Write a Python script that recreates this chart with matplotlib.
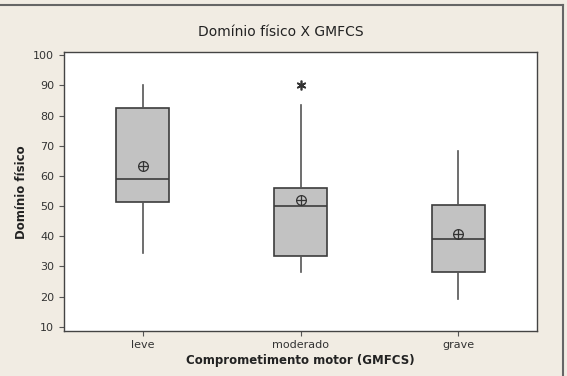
import matplotlib.pyplot as plt
from matplotlib.lines import Line2D

# values
groups = ['leve', 'moderado', 'grave']
whislo = [34.6, 28.2, 19.2]
q1 = [51.5, 33.5, 28.1]
med = [59.1, 49.9, 39.0]
q3 = [82.4, 56.1, 50.5]
whishi = [90.0, 83.6, 68.3]
means = [63.3, 51.9, 40.8]
fliers = [[], [90.0], []]

stats = []
for i in range(len(groups)):
    stats.append(dict(label=groups[i], whislo=whislo[i], q1=q1[i], med=med[i],
                      q3=q3[i], whishi=whishi[i], mean=means[i], fliers=fliers[i]))

bg = '#f1ece3'
fig = plt.figure(figsize=(5.67, 3.76), dpi=100, facecolor=bg)
ax = fig.add_axes([0.1129, 0.1197, 0.8342, 0.7407])
ax.set_facecolor('white')

pos = [1, 2, 3]
ax.bxp(stats, positions=pos, widths=0.337, patch_artist=True, showmeans=False,
       showcaps=False,
       boxprops=dict(facecolor='#c2c2c2', edgecolor='#3c3c3c', linewidth=1.2),
       medianprops=dict(color='#3c3c3c', linewidth=1.2),
       whiskerprops=dict(color='#555555', linewidth=1.2),
       flierprops=dict(marker=(6, 2, 0), markersize=7, markerfacecolor='#333333',
                       markeredgecolor='#333333', markeredgewidth=1.2))

# mean symbol: circle with cross
ax.plot(pos, means, 'o', markersize=7, markerfacecolor='none',
        markeredgecolor='#333333', markeredgewidth=0.9, zorder=5)
ax.plot(pos, means, '+', markersize=7, color='#333333',
        markeredgewidth=0.9, zorder=5)

ax.set_xlim(0.5, 3.5)
ax.set_ylim(8.6, 100.9)
ax.set_yticks(range(10, 101, 10))
ax.set_xticks(pos)
ax.set_xticklabels(groups)
ax.tick_params(axis='both', direction='out', length=3.5, width=0.8,
               colors='#555555', labelcolor='#333333', labelsize=8)
ax.tick_params(axis='x', pad=3)
for s in ax.spines.values():
    s.set_color('#444444')
    s.set_linewidth(1.0)

ax.set_xlabel('Comprometimento motor (GMFCS)', fontsize=8.5, fontweight='bold',
              color='#222222', labelpad=3)
ax.set_ylabel('Domínio físico', fontsize=8.5, fontweight='bold',
              color='#222222', labelpad=4)
fig.text(0.495, 0.915, 'Domínio físico X GMFCS', ha='center', va='center',
         fontsize=10, color='#222222')

# outer frame lines on top and right
fig.add_artist(Line2D([0, 0.993], [0.988, 0.988], transform=fig.transFigure,
                      color='#666666', linewidth=1.5))
fig.add_artist(Line2D([0.993, 0.993], [0, 0.988], transform=fig.transFigure,
                      color='#666666', linewidth=1.5))

fig.savefig('out.png', dpi=100, facecolor=bg)
